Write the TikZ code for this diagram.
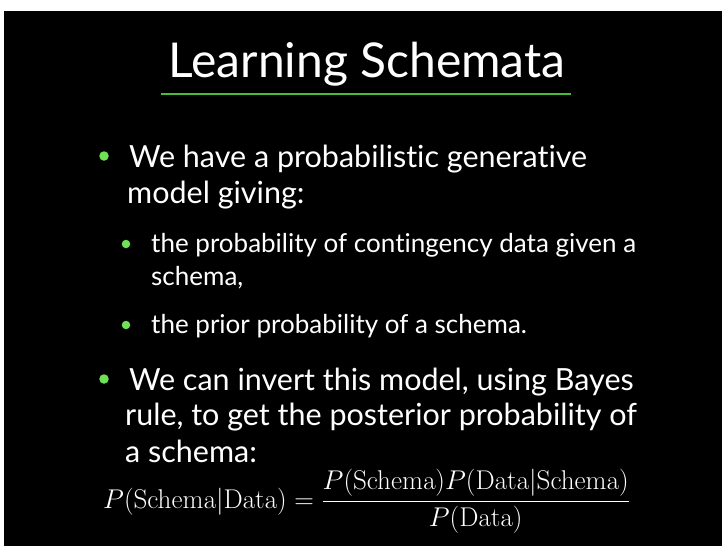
\documentclass[tikz,border=0pt]{standalone}
\usepackage{amsmath}
\usepackage{graphicx}
\usepackage[no-math]{fontspec}
\setmainfont{Lato}[Ligatures={NoCommon}]
\definecolor{bulletgreen}{RGB}{110,225,85}
\definecolor{rulegreen}{RGB}{70,190,55}
\begin{document}
\begin{tikzpicture}[x=1pt,y=-1pt,
  txt/.style={anchor=base west, text=white, inner sep=0pt, font=\fontsize{30.5}{36}\selectfont},
  subtxt/.style={anchor=base west, text=white, inner sep=0pt, font=\fontsize{26}{30}\selectfont},
  bdot/.style={circle, fill=bulletgreen, inner sep=0pt, minimum size=9.5pt},
  sdot/.style={circle, fill=bulletgreen, inner sep=0pt, minimum size=8.5pt}]
\useasboundingbox (0,0) rectangle (722,546);
\fill[white] (0,0) rectangle (722,546);
\fill[black] (4,11) rectangle (722,546);
\node[anchor=base, text=white, font=\fontsize{48}{56}\selectfont, inner sep=0pt] (title) at (367,77) {Learning Schemata};
\coordinate (rl) at (161,94);
\coordinate (rr) at (571,94);
\draw[rulegreen, line width=1.2pt] (rl) -- (rr);
\node[bdot] (d1) at (104,156) {};
\node[txt] (l1) at (129,167) {We have a probabilistic generative};
\node[txt] (l2) at (127,203) {model giving:};
\node[sdot] (d2) at (126,244) {};
\node[subtxt] (s1) at (151,252) {the probability of contingency data given a};
\node[subtxt] (s2) at (151,285) {schema,};
\node[sdot] (d3) at (126,325) {};
\node[subtxt] (s3) at (151,333) {the prior probability of a schema.};
\node[bdot] (d4) at (104,379) {};
\node[txt] (l3) at (129,390) {We can invert this model, using Bayes};
\node[txt] (l4) at (125,425) {rule, to get the posterior probability of};
\node[txt] (l5) at (125,462) {a schema:};
\node[anchor=base west, text=white, inner sep=0pt, font=\fontsize{24.88}{30}\selectfont] (eq) at (103,508) {\scalebox{1.09}{$P(\mathrm{Schema}|\mathrm{Data}) = \dfrac{P(\mathrm{Schema})P(\mathrm{Data}|\mathrm{Schema})}{P(\mathrm{Data})}$}};
\end{tikzpicture}
\end{document}
